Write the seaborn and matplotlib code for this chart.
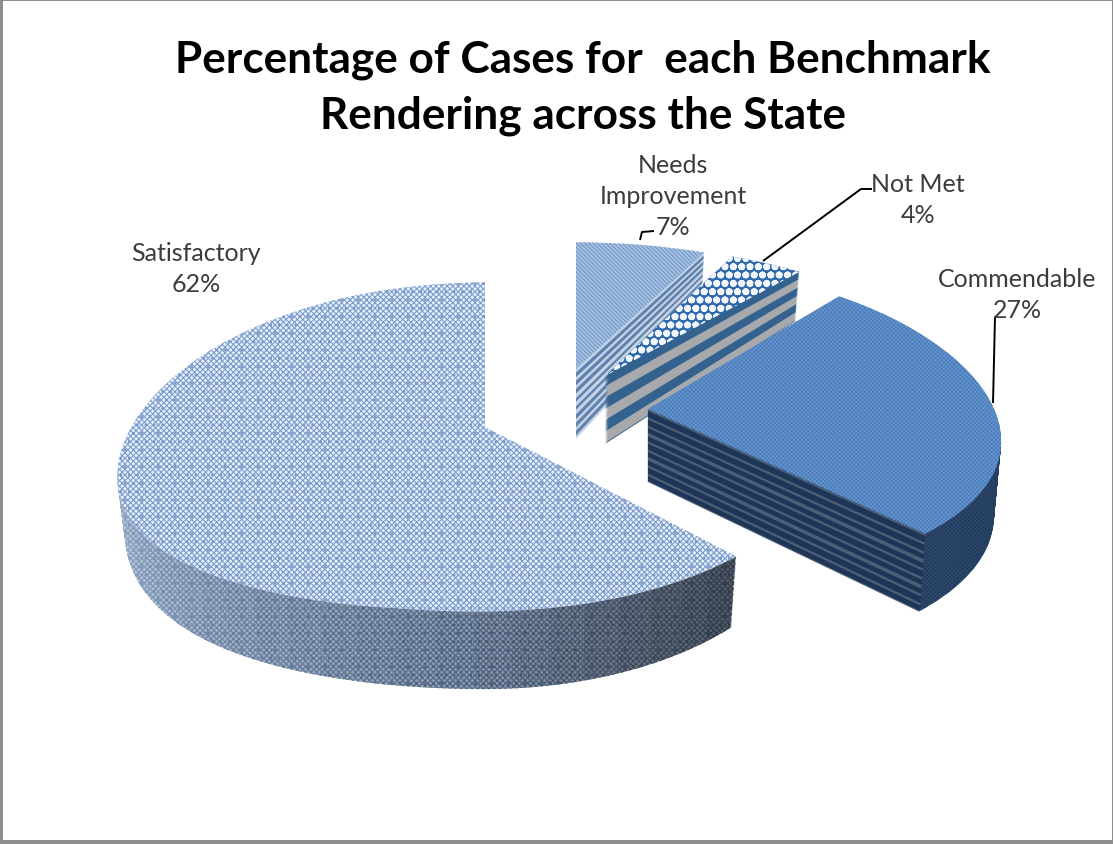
import numpy as np
import matplotlib
matplotlib.use("Agg")
import matplotlib.pyplot as plt
from matplotlib.transforms import Transform
import seaborn as sns

# ---- data ----
categories = ["Satisfactory", "Commendable", "Not Met", "Needs Improvement"]
percentages = [62, 27, 4, 7]
title_lines = ["Percentage of Cases for  each Benchmark", "Rendering across the State"]
label_names = ["Satisfactory", "Commendable", "Not Met", "Needs\nImprovement"]

sns.set_theme(style="white")
plt.rcParams['font.family'] = ['Lato', 'DejaVu Sans']
plt.rcParams['hatch.linewidth'] = 0.75

fig = plt.figure(figsize=(11.13, 8.45), dpi=100, facecolor="white")
ax = fig.add_axes([0, 0, 1, 1])


class Tilt(Transform):
    """Perspective view of the unit pie, one layer of an extruded slice."""
    input_dims = output_dims = 2
    is_separable = False
    has_inverse = False

    def __init__(self, apex, rl, rr, ry, k, ky, depth, c, e, t):
        super().__init__()
        self.p = (apex, rl, rr, ry, k, ky, depth, c, e, t)

    def transform_non_affine(self, xy):
        (ax0, ay0), rl, rr, ry, k, ky, depth, c, e, t = self.p
        xy = np.asarray(xy, float)
        u, v = xy[:, 0], xy[:, 1]
        w = 1 + k * v
        wy = 1 + ky * v
        X = ax0 + np.where(u < 0, rl, rr) * u / w * (1 - 0.02 * t)
        bulge = e * np.where(u < 0, u ** 2, 0) * (1 - 0.5 * v)
        Y = ay0 - ry * v / wy + bulge + t * depth * (1 - c * v)
        return np.column_stack([X, Y])

    def transform_path_non_affine(self, path):
        return type(path)(self.transform_non_affine(path.vertices), path.codes)


# geometry per slice: apex, radii, perspective, wall depth
geom = {
    0: dict(apex=(485, 428), rl=365, rr=335, ry=162, k=0.12, ky=0.12, depth=52, c=0.5, e=28),
    1: dict(apex=(648, 410), rl=346, rr=346, ry=158, k=0.2, ky=0.105, depth=72, c=0.1, e=0),
    2: dict(apex=(605, 377), rl=352, rr=352, ry=156, k=0.2, ky=0.2, depth=68, c=0.36, e=0),
    3: dict(apex=(576, 370), rl=356, rr=356, ry=152, k=0.2, ky=0.2, depth=70, c=0.3, e=0),
}
draw_order = {0: 10, 3: 20, 2: 30, 1: 40}
N_LAYERS = 60
to_rgb = matplotlib.colors.to_rgb


def ramp(stops, f):
    xs = [s[0] for s in stops]
    cols = np.array([to_rgb(s[1]) for s in stops])
    return tuple(np.interp(f, xs, cols[:, j]) for j in range(3))


def slice_layer(idx, t, face, hatch=None, hatch_color=None, z=0.0, n_seg=1):
    """One ax.pie layer; only slice idx is kept (optionally split for shading)."""
    vals = []
    owner = []
    for i, p in enumerate(percentages):
        parts = n_seg if i == idx else 1
        vals += [p / parts] * parts
        owner += [i] * parts
    wedges, texts = ax.pie(vals, startangle=90, radius=1, wedgeprops=dict(linewidth=0))
    for txt in texts:
        txt.remove()
    seg = 0
    for w, o in zip(wedges, owner):
        if o != idx:
            w.remove()
            continue
        f = seg / max(n_seg - 1, 1)
        w.set_facecolor(face(f) if callable(face) else face)
        if hatch:
            w.set_hatch(hatch)
            w.set_edgecolor(hatch_color(f) if callable(hatch_color) else hatch_color)
        w.set_linewidth(0)
        w.set_transform(Tilt(t=t, **geom[idx]) + ax.transData)
        w.set_zorder(draw_order[idx] + z)
        w.set_clip_on(False)
        seg += 1


sat_face = [(0, "#C3CFDF"), (.42, "#C3CFDF"), (.55, "#B0BBCB"), (.81, "#8A98A8"), (.93, "#646E7C"), (1, "#525C6A")]
sat_hatch = [(0, "#7596C2"), (.42, "#7596C2"), (.55, "#6888B0"), (.81, "#42587C"), (.93, "#354256"), (1, "#2C3746")]

for i in range(N_LAYERS, 0, -1):
    t = i / N_LAYERS
    z = (N_LAYERS - i) / N_LAYERS * 0.8
    slice_layer(0, t, lambda f: ramp(sat_face, f), "xxxxxx..", lambda f: ramp(sat_hatch, f), z, n_seg=40)
    band = int(t * 70 / 4.2) % 2
    slice_layer(3, t, "#5F82AE" if band else "#C6D3E4", z=z)
    band = int(t * 68 / 11.3) % 2
    slice_layer(2, t, "#A7A9AC" if band else "#33628F", z=z)
    slice_layer(1, t, "#21395A", "xxxxxxxx", "#2F4B70", z)

# Commendable straight wall: thin stripes along the cut edge of the slice
cut = np.deg2rad(90 + 3.6 * percentages[0])
for i in range(N_LAYERS, 0, -1):
    t = i / N_LAYERS
    light = (t * 72) % 8 < 2.4
    ax.plot([0, np.cos(cut)], [0, np.sin(cut)], color="#4D5F77" if light else "#1D3557", lw=1.3,
            solid_capstyle="butt", transform=Tilt(t=t, **geom[1]) + ax.transData,
            zorder=40.9, clip_on=False)

# top faces
slice_layer(0, 0, "#E6EFFA", "xxxxxx..", "#7A9BCB", 1)
slice_layer(1, 0, "#447ABA", "xxxxxxxx", "#6491C9", 1)
slice_layer(2, 0, "#2F6AAE", "OO**", "#F4F8FD", 1)
slice_layer(3, 0, "#A9C1DF", "\\\\\\\\\\\\\\\\", "#6C95C8", 1)

ax.set_aspect("auto")
ax.set_xticks([])
ax.set_yticks([])
ax.set_facecolor("white")
ax.set_frame_on(True)
for side, lw in dict(left=6, top=4, bottom=8, right=3).items():
    ax.spines[side].set_visible(True)
    ax.spines[side].set_color("#8E8E8E")
    ax.spines[side].set_linewidth(lw * 0.72)

# title
for line, y in zip(title_lines, (72, 128)):
    ax.text(583, y, line, ha="center", va="baseline", fontsize=31.8, fontweight="bold",
            color="black", zorder=100)

# data labels: centre x and y of the first line
label_pos = [(196, 252), (1017, 278), (918, 183), (673, 164)]
for name, pct, (x, y) in zip(label_names, percentages, label_pos):
    ax.text(x, y - 10, f"{name}\n{pct}%", ha="center", va="top", fontsize=18,
            color="#3C3C3C", linespacing=1.42, zorder=100)

# leader lines
for xs, ys in ([640, 642, 654], [241, 233, 232]), ([763, 861, 872], [262, 190, 190]), ([993, 995, 997], [404, 318, 318]):
    ax.plot(xs, ys, color="black", lw=1.4, zorder=99, solid_capstyle="butt")

ax.set_xlim(0, 1113)
ax.set_ylim(845, 0)
fig.savefig("out.png", dpi=100, facecolor="white")
